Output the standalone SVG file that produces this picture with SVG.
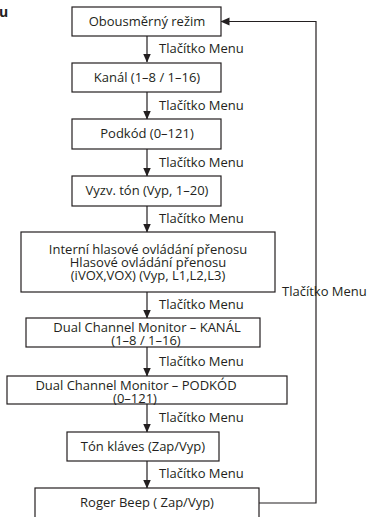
<svg xmlns="http://www.w3.org/2000/svg" width="368" height="517" viewBox="0 0 368 517">
<style>
.box{fill:#fff;stroke:#231f20;stroke-width:1.2}
.t{font-family:"Open Sans","Liberation Sans",sans-serif;font-size:13px;fill:#231f20}
.c{text-anchor:middle}
.ln{fill:none;stroke:#231f20;stroke-width:1.2}
</style>
<defs>
<marker id="ah" markerUnits="userSpaceOnUse" markerWidth="9" markerHeight="9" refX="8.5" refY="4" orient="auto" viewBox="0 0 9 8">
<path d="M0,0 L9,4 L0,8 z" fill="#231f20"/>
</marker>
</defs>
<rect width="368" height="517" fill="#fff"/>
<text x="-1" y="17" class="t" style="font-weight:bold;font-size:14px">u</text>

<g id="connectors">
<line class="ln" x1="147" y1="36" x2="147" y2="62" marker-end="url(#ah)"/>
<line class="ln" x1="147" y1="92" x2="147" y2="119" marker-end="url(#ah)"/>
<line class="ln" x1="147" y1="149" x2="147" y2="176" marker-end="url(#ah)"/>
<line class="ln" x1="147" y1="206" x2="147" y2="232" marker-end="url(#ah)"/>
<line class="ln" x1="147" y1="292" x2="147" y2="318" marker-end="url(#ah)"/>
<line class="ln" x1="147" y1="347" x2="147" y2="376" marker-end="url(#ah)"/>
<line class="ln" x1="147" y1="404" x2="147" y2="432" marker-end="url(#ah)"/>
<line class="ln" x1="147" y1="461" x2="147" y2="488" marker-end="url(#ah)"/>
<path class="ln" d="M259,503 H316 V21.5 H221" marker-end="url(#ah)"/>
<text class="t" x="159" y="53">Tlačítko Menu</text>
<text class="t" x="159" y="110">Tlačítko Menu</text>
<text class="t" x="159" y="167">Tlačítko Menu</text>
<text class="t" x="159" y="223">Tlačítko Menu</text>
<text class="t" x="159" y="309">Tlačítko Menu</text>
<text class="t" x="159" y="366">Tlačítko Menu</text>
<text class="t" x="159" y="422">Tlačítko Menu</text>
<text class="t" x="159" y="478">Tlačítko Menu</text>
<text class="t" x="282" y="296">Tlačítko Menu</text>
</g>

<g id="n1"><rect class="box" x="72" y="7" width="149" height="29"/><text class="t c" x="147" y="26">Obousměrný režim</text></g>
<g id="n2"><rect class="box" x="72" y="63" width="149" height="29"/><text class="t c" x="147" y="82">Kanál (1–8 / 1–16)</text></g>
<g id="n3"><rect class="box" x="72" y="119" width="149" height="30"/><text class="t c" x="147" y="138">Podkód (0–121)</text></g>
<g id="n4"><rect class="box" x="72" y="176" width="149" height="30"/><text class="t c" x="147" y="195">Vyzv. tón (Vyp, 1–20)</text></g>
<g id="n5"><rect class="box" x="21" y="232" width="254" height="60"/>
<text class="t c" x="148" y="254">Interní hlasové ovládání přenosu</text>
<text class="t c" x="148" y="267">Hlasové ovládání přenosu</text>
<text class="t c" x="148" y="280">(iVOX,VOX) (Vyp, L1,L2,L3)</text></g>
<g id="n6"><rect class="box" x="26" y="318" width="234" height="29"/>
<text class="t c" x="147" y="332">Dual Channel Monitor – KANÁL</text>
<text class="t c" x="146" y="345">(1–8 / 1–16)</text></g>
<g id="n7"><rect class="box" x="7" y="376" width="280" height="28"/>
<text class="t c" x="136" y="390">Dual Channel Monitor – PODKÓD</text>
<text class="t c" x="135" y="403">(0–121)</text></g>
<g id="n8"><rect class="box" x="67" y="432" width="152" height="29"/><text class="t c" x="143" y="451">Tón kláves (Zap/Vyp)</text></g>
<g id="n9"><rect class="box" x="35" y="488" width="224" height="40"/><text class="t c" x="147" y="507">Roger Beep ( Zap/Vyp)</text></g>
</svg>
